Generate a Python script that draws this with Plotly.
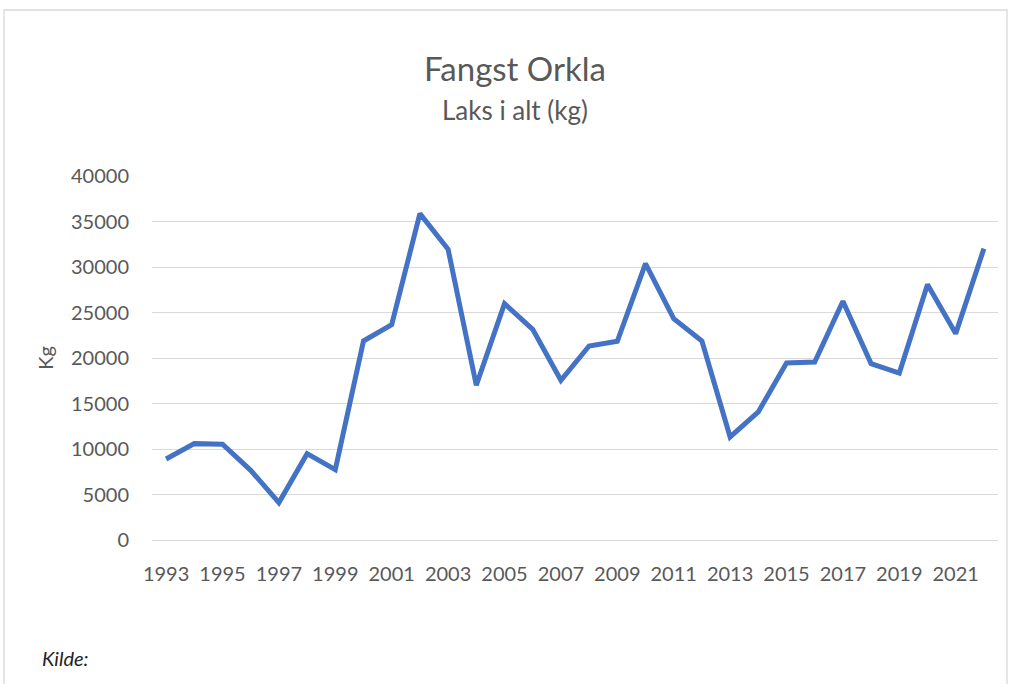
import plotly.graph_objects as go

# Annual catch of salmon in Orkla, kg
years = list(range(1993, 2023))
catch_kg = [8900, 10590, 10520, 7660, 4110, 9490, 7740, 21870, 23670, 35870,
            31950, 17000, 25980, 23150, 17550, 21320, 21840, 30370, 24330, 21870,
            11320, 14070, 19450, 19560, 26230, 19380, 18350, 28070, 22680, 32020]
y_ticks = [0, 5000, 10000, 15000, 20000, 25000, 30000, 35000, 40000]
x_ticks = list(range(1993, 2022, 2))

W, H = 1014, 684
L, R, T, B = 152, 16, 176, 144
pw, ph = W - L - R, H - T - B

def px_x(x):
    return (x - L) / pw

def px_y(y):
    return (H - B - y) / ph

font = "Lato, Open Sans, sans-serif"
grey = "#595959"
tick_size = 20

fig = go.Figure(go.Scatter(
    x=years, y=catch_kg, mode="lines",
    line=dict(color="#4472C4", width=5, shape="linear"),
    hoverinfo="x+y", showlegend=False,
))

fig.update_layout(
    width=W, height=H,
    margin=dict(l=L, r=R, t=T, b=B),
    paper_bgcolor="white", plot_bgcolor="white",
    font=dict(family=font, color=grey, size=tick_size),
    xaxis=dict(
        range=[1992.5, 2022.5], tickvals=x_ticks,
        ticktext=[str(v) for v in x_ticks],
        showgrid=False, zeroline=False, showline=False,
        ticks="", ticklabelstandoff=20, tickfont=dict(size=tick_size, color=grey),
        fixedrange=True,
    ),
    yaxis=dict(
        range=[0, 40000], tickvals=y_ticks,
        ticktext=[str(v) for v in y_ticks],
        showgrid=True, gridcolor="#d9d9d9", gridwidth=1.3,
        zeroline=True, zerolinecolor="#d9d9d9", zerolinewidth=1.3,
        showline=False, ticks="", ticklabelstandoff=22,
        tickfont=dict(size=tick_size, color=grey),
        title=dict(text="Kg", font=dict(size=tick_size, color=grey), standoff=12),
        fixedrange=True,
    ),
    shapes=[dict(
        type="rect", xref="paper", yref="paper",
        x0=px_x(4), x1=px_x(1007), y0=px_y(690), y1=px_y(10),
        line=dict(color="#d9d9d9", width=1.3), fillcolor="rgba(0,0,0,0)",
        layer="below",
    )],
    annotations=[
        dict(text="Fangst Orkla", xref="paper", yref="paper",
             x=px_x(515), y=px_y(68), showarrow=False,
             xanchor="center", yanchor="middle",
             font=dict(size=33, color=grey, family=font)),
        dict(text="Laks i alt (kg)", xref="paper", yref="paper",
             x=px_x(515), y=px_y(110), showarrow=False,
             xanchor="center", yanchor="middle",
             font=dict(size=26, color=grey, family=font)),
        dict(text="<i>Kilde:</i>", xref="paper", yref="paper",
             x=px_x(40), y=px_y(658), showarrow=False,
             xanchor="left", yanchor="middle",
             font=dict(size=20, color="#222222", family=font)),
    ],
)

fig.write_html("out.html")
